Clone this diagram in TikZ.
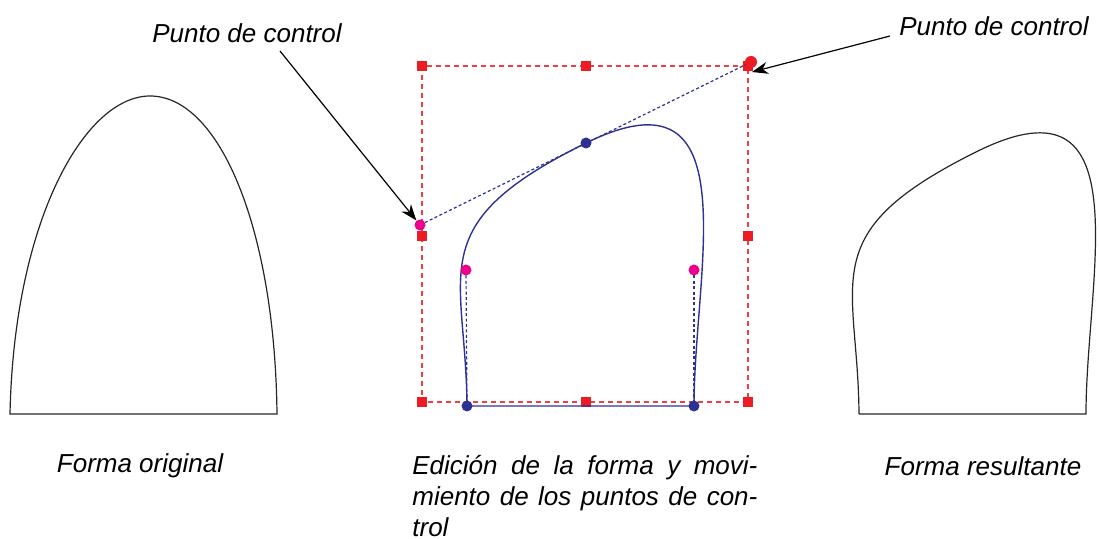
\documentclass[tikz,border=0pt]{standalone}
\usepackage{fontspec}
\setmainfont{Liberation Sans}
\usetikzlibrary{arrows.meta,positioning}
\definecolor{selred}{RGB}{237,28,36}
\definecolor{pathblue}{RGB}{46,49,146}
\definecolor{ctrlpink}{RGB}{236,0,140}

\begin{document}
\begin{tikzpicture}[x=0.5pt,y=-0.5pt,
    captext/.style={font=\fontsize{13}{15.5}\selectfont\itshape, inner sep=0pt},
    handle/.style={rectangle, fill=selred, minimum size=4.6pt, inner sep=0pt},
    anchorpt/.style={circle, fill=pathblue, minimum size=5.5pt, inner sep=0pt},
    ctrlpt/.style={circle, fill=ctrlpink, minimum size=5.5pt, inner sep=0pt},
    handleline/.style={pathblue, line width=0.6pt, dash pattern=on 1.5pt off 1.2pt},
    outline/.style={line width=0.6pt, black!85},
    pointer/.style={line width=0.6pt, -{Stealth[length=8pt,width=6pt,inset=2.5pt]}}
]
    \useasboundingbox (0,0) rectangle (1099,539);

    % forma original
    \draw[outline] (10,414) .. controls (14,220) and (85,96) .. (150,96)
        .. controls (220,96) and (275,230) .. (277,414) -- cycle;

    % marco de seleccion
    \draw[selred!85, line width=0.7pt, dash pattern=on 2.5pt off 2pt] (422,66) rectangle (748,402);
    \foreach \hx/\hy in {422/66, 586/66, 748/66, 422/236, 748/236, 422/402, 586/402, 748/402}
        \node[handle] at (\hx,\hy) {};

    % puntos de la forma editada
    \coordinate (b1) at (467,406);
    \coordinate (b2) at (694,406);
    \coordinate (tp) at (586,143);
    \coordinate (c0) at (466,270);
    \coordinate (c1) at (420,225);
    \coordinate (c2) at (694,270);
    \coordinate (c3) at (751,62);

    \draw[handleline] (c1) -- (c3);
    \draw[handleline] (c0) -- (b1);
    \draw[handleline] (c2) -- (b2);
    \draw[pathblue, line width=0.7pt] (b1) -- (b2) .. controls (c2) and (c3) .. (tp)
        .. controls (c1) and (c0) .. (b1);

    \node[anchorpt] (nb1) at (b1) {};
    \node[anchorpt] (nb2) at (b2) {};
    \node[anchorpt] (ntp) at (tp) {};
    \node[ctrlpt] (nc0) at (c0) {};
    \node[ctrlpt] (nc1) at (c1) {};
    \node[ctrlpt] (nc2) at (c2) {};
    \node[circle, fill=selred, minimum size=6pt, inner sep=0pt] (nc3) at (c3) {};

    % forma resultante
    \begin{scope}[shift={(392,8)}]
    \draw[outline] (467,406) -- (694,406) .. controls (694,270) and (751,62) .. (586,143)
        .. controls (420,225) and (466,270) .. (467,406);
    \end{scope}

    % textos
    \node[captext] (pcleft)  at (247,33)  {Punto de control};
    \node[captext] (pcright) at (994,26)  {Punto de control};
    \node[captext] (orig)    at (140,466) {Forma original};
    \node[captext] (result)  at (983,466) {Forma resultante};
    \node[captext, text width=172.5pt, align=justify, anchor=north west] (edit) at (412,455)
        {Edición de la forma y movi-\linebreak miento de los puntos de con-\linebreak trol};

    \coordinate (t1) at (280,51);
    \coordinate (t2) at (890,36);
    \coordinate (e2) at (752,72);
    \draw[pointer] (t1) -- (nc1);
    \draw[pointer] (t2) -- (e2);
\end{tikzpicture}
\end{document}
